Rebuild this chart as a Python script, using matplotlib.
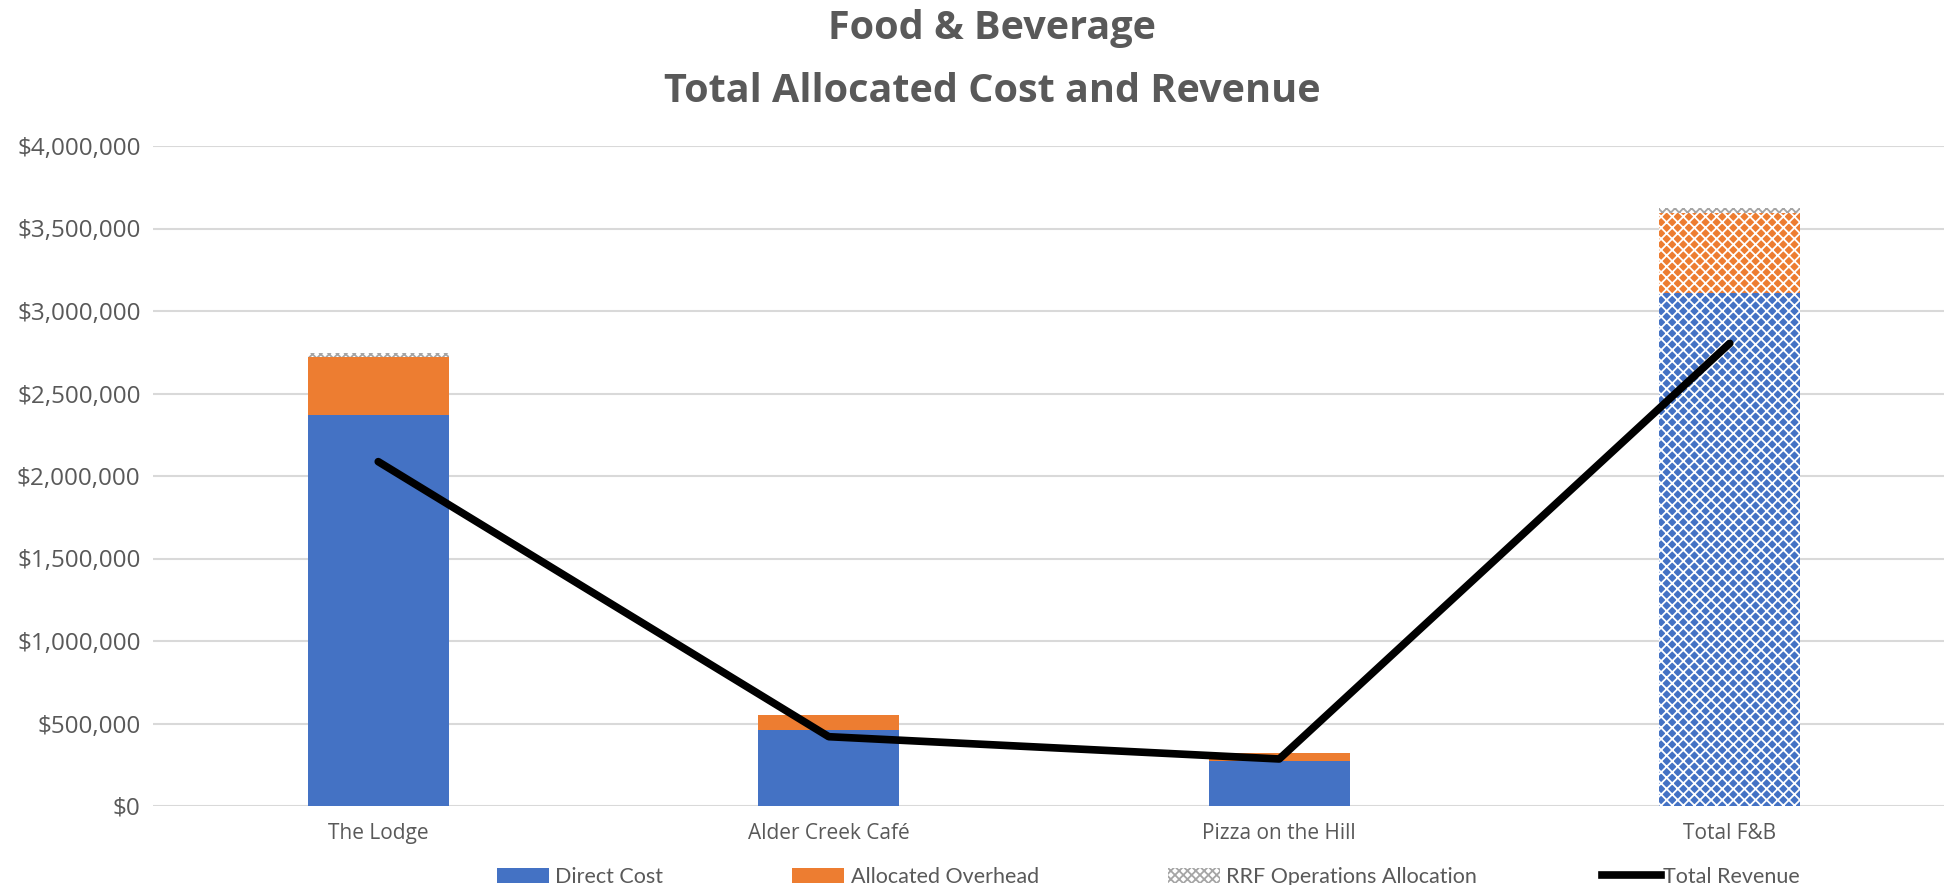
# Realiza a importação de módulos necessários
import matplotlib
matplotlib.use('Agg')
import matplotlib.pyplot as plt
from matplotlib.patches import Patch
from matplotlib.lines import Line2D
from matplotlib.ticker import FuncFormatter




# --------> Parte 0: Dados do gráfico
# --
categorias = ['The Lodge', 'Alder Creek Café', 'Pizza on the Hill', 'Total F&B']

custo_direto = [2370000, 462000, 271000, 3111000]
overhead_alocado = [351000, 88000, 48000, 485000]
alocacao_rrf = [23000, 2000, 1000, 26000]
receita_total = [2087000, 420000, 285000, 2804000]

# Barra do total usa preenchimento com padrão
com_padrao = [False, False, False, True]
# --
# --------> Parte 0: Dados do gráfico






# --------> Parte 1: Configuração da figura
# --
azul = '#4472C4'
laranja = '#ED7D31'
cinza = '#A5A5A5'
texto = '#595959'
grade = '#D9D9D9'

plt.rcParams['hatch.linewidth'] = 1.3

fig = plt.figure(figsize=(19.44, 8.85), dpi=100)
ax = fig.add_axes([153 / 1944, 79 / 885, 1802 / 1944, 660 / 885])

x = list(range(len(categorias)))
largura = 0.313
# --
# --------> Parte 1: Configuração da figura






# --------> Parte 2: Barras empilhadas e linha de receita
# --
base = [0] * len(categorias)
for valores, cor in [(custo_direto, azul), (overhead_alocado, laranja)]:
    for i in x:
        if com_padrao[i]:
            ax.bar(x[i], valores[i], largura, bottom=base[i], color=cor,
                   edgecolor='white', linewidth=0, hatch='xxx', zorder=2)
        else:
            ax.bar(x[i], valores[i], largura, bottom=base[i], color=cor,
                   linewidth=0, zorder=2)
    base = [b + v for b, v in zip(base, valores)]

# Alocação RRF sempre com padrão cinza
ax.bar(x, alocacao_rrf, largura, bottom=base, color='white',
       edgecolor=cinza, linewidth=0, hatch='xxxx', zorder=2)

ax.plot(x, receita_total, color='black', linewidth=5.5,
        solid_capstyle='round', solid_joinstyle='round', zorder=3)
# --
# --------> Parte 2: Barras empilhadas e linha de receita






# --------> Parte 3: Eixos, títulos e legenda
# --
ax.set_xlim(-0.5, 3.5)
ax.set_ylim(0, 4000000)
ax.set_yticks(range(0, 4000001, 500000))
ax.yaxis.set_major_formatter(FuncFormatter(lambda v, p: f'${v:,.0f}'))
ax.set_xticks(x)
ax.set_xticklabels(categorias)

ax.grid(axis='y', color=grade, linewidth=1.5, zorder=0)
ax.set_axisbelow(True)
for lado in ['top', 'right', 'left', 'bottom']:
    ax.spines[lado].set_visible(False)
ax.tick_params(axis='both', length=0, colors=texto)
ax.tick_params(axis='y', pad=9, labelsize=17.5)
ax.tick_params(axis='x', pad=12, labelsize=15)
for rotulo in ax.get_xticklabels() + ax.get_yticklabels():
    rotulo.set_fontfamily('Open Sans')

fig.text(992 / 1944, 1 - 29 / 885, 'Food & Beverage', ha='center', va='center',
         fontsize=28.5, fontweight='bold', color=texto, family='Open Sans')
fig.text(992 / 1944, 1 - 91 / 885, 'Total Allocated Cost and Revenue', ha='center',
         va='center', fontsize=28.5, fontweight='bold', color=texto, family='Open Sans')

# Legenda das barras
itens = [
    Patch(facecolor=azul, linewidth=0),
    Patch(facecolor=laranja, linewidth=0),
    Patch(facecolor='white', edgecolor=cinza, linewidth=0, hatch='xxxx'),
]
nomes = ['Direct Cost', 'Allocated Overhead', 'RRF Operations Allocation']
fig.legend(itens, nomes, loc='center', bbox_to_anchor=(987 / 1944, 8 / 885),
           ncol=3, frameon=False, handlelength=2.4, handletextpad=0.3,
           columnspacing=6.0, labelcolor=texto,
           prop={'family': 'Lato', 'size': 15.5})

# Legenda da linha de receita
fig.legend([Line2D([0], [0], color='black', linewidth=5.5)], ['Total Revenue'],
           loc='center', bbox_to_anchor=(1701 / 1944, 8 / 885), frameon=False,
           handlelength=2.7, handletextpad=0.1, labelcolor=texto,
           prop={'family': 'Lato', 'size': 15.5})

plt.savefig('out.png', dpi=100)
# --
# --------> Parte 3: Eixos, títulos e legenda
